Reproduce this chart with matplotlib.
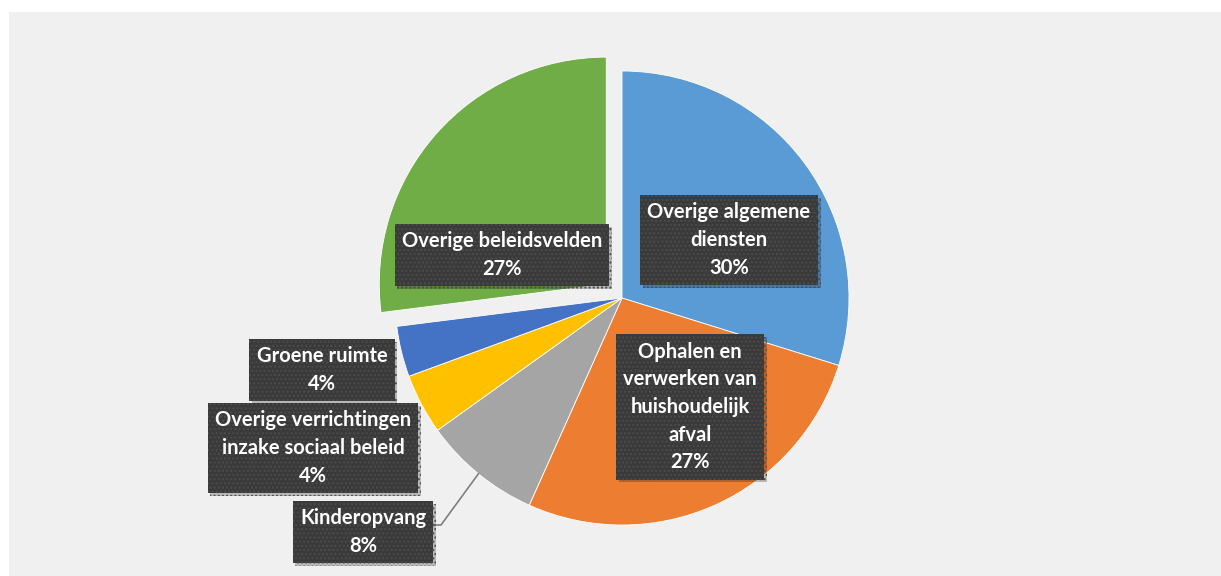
import numpy as np
import matplotlib
matplotlib.use("Agg")
import matplotlib.pyplot as plt
import matplotlib.patheffects as pe
from matplotlib.patches import Rectangle

# slices, clockwise from the top
labels = ["Overige algemene\ndiensten",
          "Ophalen en\nverwerken van\nhuishoudelijk\nafval",
          "Kinderopvang",
          "Overige verrichtingen\ninzake sociaal beleid",
          "Groene ruimte",
          "Overige beleidsvelden"]
values = [29.8, 26.9, 8.4, 4.3, 3.6, 27.0]
colors = ["#5B9BD5", "#ED7D31", "#A5A5A5", "#FFC000", "#4472C4", "#70AD47"]
explode = [0, 0, 0, 0, 0, 21]

# label box centres (pixel coords, origin bottom-left)
label_pos = [(729, 336), (690, 169), (363, 44), (313, 128), (322, 206), (502, 321)]

W, H = 1221, 576
fig = plt.figure(figsize=(W / 100, H / 100), dpi=100, facecolor="white")
fig.patches.append(Rectangle((9 / W, 0), (W - 9) / W, (H - 12) / H,
                             transform=fig.transFigure, facecolor="#F0F0F0",
                             edgecolor="none", zorder=-10))

ax = fig.add_axes([0, 0, 1, 1])
ax.set_aspect("equal")
ax.patch.set_alpha(0)

center = (622, 278)
radius = 227
wedges, _ = ax.pie(values, colors=colors, startangle=90, counterclock=False,
                   center=center, radius=radius, explode=explode,
                   wedgeprops=dict(edgecolor="white", linewidth=0.6),
                   frame=True)
ax.set_xlim(0, W)
ax.set_ylim(0, H)
ax.axis("off")

box = dict(boxstyle="square,pad=0.36", facecolor="#3A3A3A",
           edgecolor="#4C4C4C", hatch="....", linewidth=0)
for lab, v, (x, y) in zip(labels, values, label_pos):
    t = ax.text(x, y, f"{lab}\n{v:.0f}%", ha="center", va="center",
                color="white", fontsize=14.5, fontweight="bold", family="Lato",
                linespacing=1.48, bbox=box, zorder=5)
    t.get_bbox_patch().set_path_effects(
        [pe.SimplePatchShadow(offset=(2, -2), alpha=0.25), pe.Normal()])

# leader line for Kinderopvang
w = wedges[2]
th = np.deg2rad((w.theta1 + w.theta2) / 2)
lx, ly = w.center[0] + radius * np.cos(th), w.center[1] + radius * np.sin(th)
ax.plot([433, 441, lx], [51, 51, ly], color="#7F7F7F", lw=1.2, zorder=3)

fig.savefig("out.png", dpi=100, facecolor="white")
